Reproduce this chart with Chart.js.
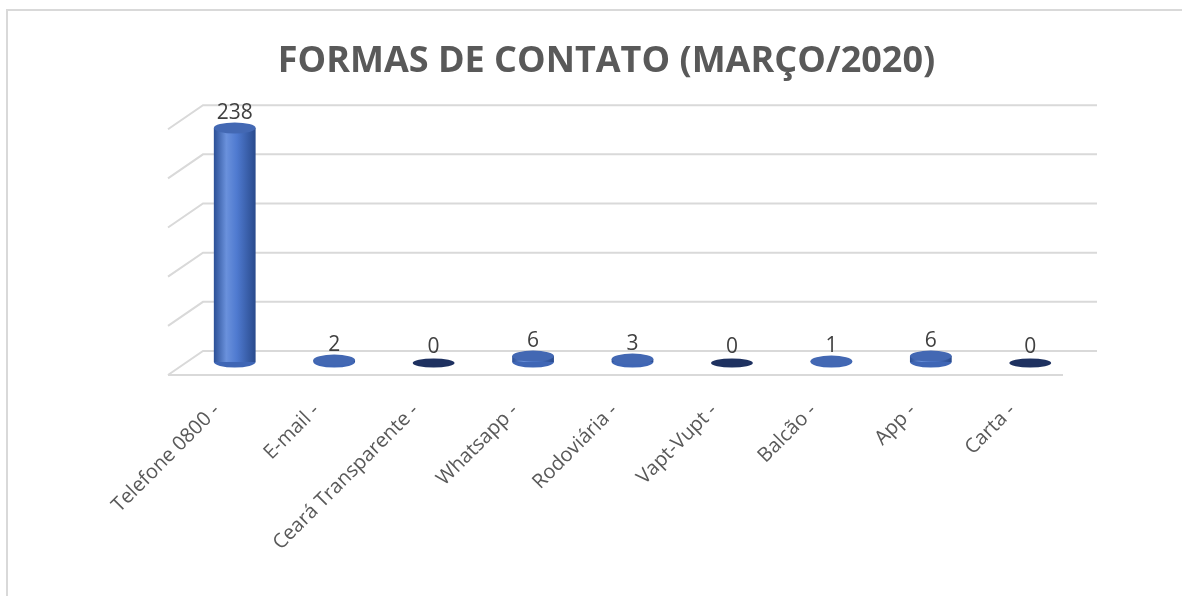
<!DOCTYPE html>
<html lang="pt-BR">
<head>
<meta charset="utf-8">
<title>Formas de contato</title>
<script src="https://cdn.jsdelivr.net/npm/chart.js@4"></script>
<style>
    html, body { margin: 0; padding: 0; background: #fff; }
    #grafico { display: block; }
</style>
</head>
<body>
<canvas id="grafico" width="1182" height="596"></canvas>
<script>
// Dados do gráfico
const categorias = ['Telefone 0800 -', 'E-mail -', 'Ceará Transparente -', 'Whatsapp -', 'Rodoviária -', 'Vapt-Vupt -', 'Balcão -', 'App -', 'Carta -'];
const contatos = [238, 2, 0, 6, 3, 0, 1, 6, 0];
const titulo = 'FORMAS DE CONTATO (MARÇO/2020)';
const marcasY = [0, 50, 100, 150, 200, 250];

const corGrade = '#d9d9d9';
const corTexto = '#595959';

// Gradiente horizontal para parecer um cilindro
function corCilindro(context) {
    const chart = context.chart;
    const area = chart.chartArea;
    if (!area) return '#4472c4';
    const x = chart.scales.x.getPixelForValue(context.dataIndex);
    const meia = 21;
    const g = chart.ctx.createLinearGradient(x - meia, 0, x + meia, 0);
    g.addColorStop(0, '#2b4f96');
    g.addColorStop(0.3, '#6a91dc');
    g.addColorStop(0.55, '#4f7ad0');
    g.addColorStop(1, '#294a8c');
    return g;
}

// Moldura, parede do fundo e piso em "3D"
const fundo3d = {
    id: 'fundo3d',
    beforeDatasetsDraw(chart) {
        const ctx = chart.ctx;
        const area = chart.chartArea;
        const y = chart.scales.y;
        ctx.save();
        ctx.strokeStyle = corGrade;
        ctx.lineWidth = 2;
        ctx.strokeRect(7, 10, 1200, 620);
        marcasY.forEach(v => {
            const yb = y.getPixelForValue(v) - 11;
            ctx.beginPath();
            ctx.moveTo(area.left - 17, yb + 24);
            ctx.lineTo(area.left + 18, yb);
            ctx.lineTo(area.right + 17, yb);
            ctx.stroke();
        });
        // borda da frente do piso
        const yf = y.getPixelForValue(0) + 13;
        ctx.beginPath();
        ctx.moveTo(area.left - 17, yf);
        ctx.lineTo(area.right - 17, yf);
        ctx.stroke();
        ctx.restore();
    },
    afterDatasetsDraw(chart) {
        const ctx = chart.ctx;
        const meta = chart.getDatasetMeta(0);
        ctx.save();
        meta.data.forEach((barra, i) => {
            const rx = barra.width / 2;
            const base = barra.base;
            if (contatos[i] === 0) {
                // disco escuro para valor zero
                ctx.fillStyle = '#1e3160';
                ctx.beginPath();
                ctx.ellipse(barra.x, base + 1, rx, 4.5, 0, 0, Math.PI * 2);
                ctx.fill();
            } else {
                ctx.fillStyle = '#3f66b5';
                ctx.beginPath();
                ctx.ellipse(barra.x, base, rx, 5.5, 0, 0, Math.PI);
                ctx.fill();
                ctx.fillStyle = '#4368b3';
                ctx.beginPath();
                ctx.ellipse(barra.x, barra.y, rx, 5.5, 0, 0, Math.PI * 2);
                ctx.fill();
            }
            // rótulo com o valor
            ctx.fillStyle = '#404040';
            ctx.font = '21px "Open Sans"';
            ctx.textAlign = 'center';
            ctx.textBaseline = 'alphabetic';
            ctx.fillText(String(contatos[i]), barra.x, barra.y - 9);
        });
        ctx.restore();
    }
};

const ctx = document.getElementById('grafico').getContext('2d');
new Chart(ctx, {
    type: 'bar',
    data: {
        labels: categorias,
        datasets: [{
            label: 'Contatos',
            data: contatos,
            backgroundColor: corCilindro,
            borderWidth: 0,
            barPercentage: 0.42,
            categoryPercentage: 1
        }]
    },
    options: {
        responsive: false,
        animation: false,
        layout: {
            padding: { left: 133, right: 102, top: 0, bottom: 0 }
        },
        plugins: {
            legend: { display: false },
            tooltip: { enabled: false },
            title: {
                display: true,
                text: titulo,
                color: corTexto,
                font: { family: 'Open Sans', size: 36, weight: 'bold' },
                padding: { top: 40, bottom: 33 }
            }
        },
        scales: {
            x: {
                grid: { display: false },
                border: { display: false },
                ticks: {
                    color: corTexto,
                    font: { family: 'Open Sans', size: 20 },
                    minRotation: 45,
                    maxRotation: 45,
                    padding: 29,
                    labelOffset: -18,
                    autoSkip: false
                },
                afterFit(scale) {
                    scale.height = 234;
                }
            },
            y: {
                min: 0,
                max: 250,
                grid: { display: false },
                border: { display: false },
                ticks: { display: false },
                afterFit(scale) {
                    scale.width = 52;
                }
            }
        }
    },
    plugins: [fundo3d]
});
</script>
</body>
</html>
